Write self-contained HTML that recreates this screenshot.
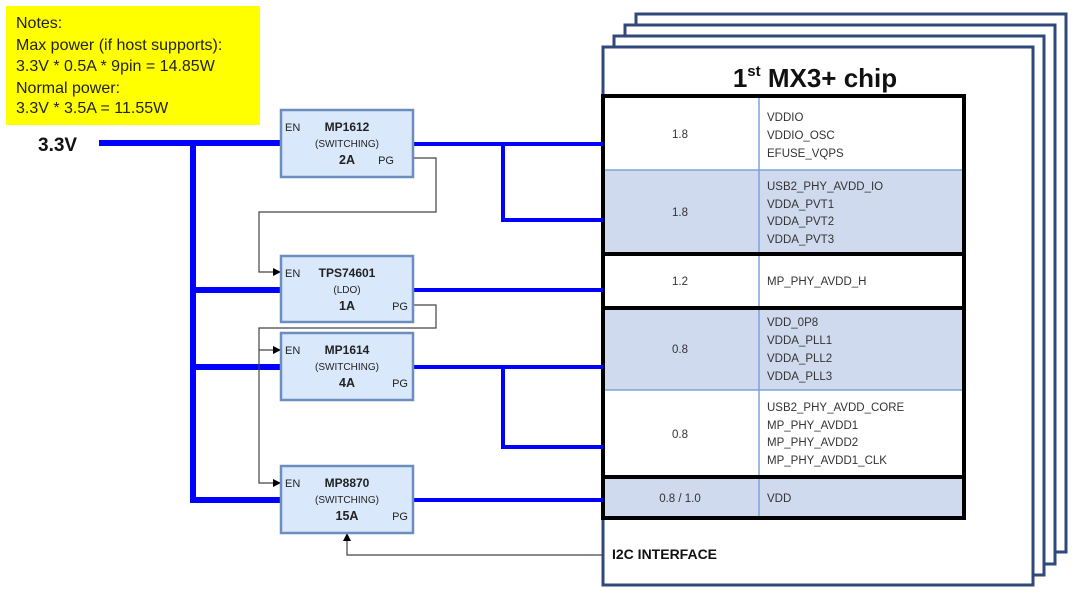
<!DOCTYPE html>
<html><head><meta charset="utf-8"><style>
html,body{margin:0;padding:0;background:#fff;}
svg{display:block;}
text{font-family:"Liberation Sans",sans-serif;}
.c{font-family:"DejaVu Sans","Liberation Sans",sans-serif;font-size:11.5px;fill:#333;}
</style></head><body>
<svg width="1090" height="600" viewBox="0 0 1090 600" xmlns="http://www.w3.org/2000/svg">
<defs><marker id="a" markerWidth="8" markerHeight="8" refX="7" refY="4" orient="auto" markerUnits="userSpaceOnUse"><path d="M0,0 L8,4 L0,8 Z" fill="#000"/></marker></defs>
<!-- stacked frames -->
<g fill="#fff" stroke="#2f4a7a" stroke-width="3">
<rect x="636" y="14" width="430" height="538"/>
<rect x="625" y="25" width="430" height="539"/>
<rect x="614" y="36" width="430" height="539"/>
<rect x="603" y="47" width="430" height="538"/>
</g>
<text x="815" y="87" text-anchor="middle" font-family="DejaVu Sans,Liberation Sans,sans-serif" font-weight="bold" font-size="26" fill="#111">1<tspan font-size="15" dy="-11">st</tspan><tspan dy="11"> MX3+ chip</tspan></text>
<!-- table -->
<rect x="605" y="170" width="359" height="83" fill="#cfdaee"/>
<rect x="605" y="307" width="359" height="83" fill="#cfdaee"/>
<rect x="605" y="476" width="359" height="42" fill="#cfdaee"/>
<g stroke="#7da3dc" stroke-width="1.5">
<line x1="759" y1="97" x2="759" y2="516"/>
<line x1="605" y1="170" x2="964" y2="170"/>
<line x1="605" y1="390" x2="964" y2="390"/>
</g>
<g stroke="#000" stroke-width="4" fill="none">
<rect x="603" y="96" width="361" height="422"/>
<line x1="603" y1="254" x2="964" y2="254"/>
<line x1="603" y1="308" x2="964" y2="308"/>
<line x1="603" y1="477" x2="964" y2="477"/>
</g>
<g class="c">
<text x="680" y="138" text-anchor="middle">1.8</text>
<text x="680" y="216" text-anchor="middle">1.8</text>
<text x="680" y="285" text-anchor="middle">1.2</text>
<text x="680" y="353" text-anchor="middle">0.8</text>
<text x="680" y="438" text-anchor="middle">0.8</text>
<text x="680" y="502" text-anchor="middle">0.8 / 1.0</text>
<text x="767" y="121">VDDIO</text><text x="767" y="139">VDDIO_OSC</text><text x="767" y="157">EFUSE_VQPS</text>
<text x="767" y="190">USB2_PHY_AVDD_IO</text><text x="767" y="208">VDDA_PVT1</text><text x="767" y="225">VDDA_PVT2</text><text x="767" y="243">VDDA_PVT3</text>
<text x="767" y="285">MP_PHY_AVDD_H</text>
<text x="767" y="326">VDD_0P8</text><text x="767" y="344">VDDA_PLL1</text><text x="767" y="362">VDDA_PLL2</text><text x="767" y="380">VDDA_PLL3</text>
<text x="767" y="411">USB2_PHY_AVDD_CORE</text><text x="767" y="429">MP_PHY_AVDD1</text><text x="767" y="446">MP_PHY_AVDD2</text><text x="767" y="464">MP_PHY_AVDD1_CLK</text>
<text x="767" y="502">VDD</text>
</g>
<text x="612" y="559" font-family="DejaVu Sans,Liberation Sans,sans-serif" font-weight="bold" font-size="14" fill="#111">I2C INTERFACE</text>
<!-- notes -->
<rect x="6" y="6" width="254" height="119" fill="#ffff00"/>
<g font-size="16" fill="#222">
<text x="16" y="28">Notes:</text>
<text x="16" y="50">Max power (if host supports):</text>
<text x="16" y="71">3.3V * 0.5A * 9pin = 14.85W</text>
<text x="16" y="93">Normal power:</text>
<text x="16" y="113">3.3V * 3.5A = 11.55W</text>
</g>
<text x="38" y="151" font-weight="bold" font-size="19" fill="#111">3.3V</text>
<!-- input bus -->
<g stroke="#0000ff" stroke-width="6" fill="none">
<line x1="99" y1="143" x2="283" y2="143"/>
<polyline points="193,143 193,500 283,500"/>
<line x1="193" y1="290" x2="283" y2="290"/>
<line x1="193" y1="367" x2="283" y2="367"/>
</g>
<!-- outputs -->
<g stroke="#0000ff" stroke-width="4" fill="none">
<line x1="413" y1="144" x2="603" y2="144"/>
<polyline points="503,144 503,220 603,220"/>
<line x1="413" y1="290" x2="603" y2="290"/>
<line x1="413" y1="367" x2="603" y2="367"/>
<polyline points="503,367 503,447 603,447"/>
<line x1="413" y1="500" x2="603" y2="500"/>
</g>
<!-- control lines -->
<g stroke="#444" stroke-width="1.2" fill="none">
<polyline points="413,158 436,158 436,212 259,212 259,272 280,272" marker-end="url(#a)"/>
<polyline points="413,305 436,305 436,328 259,328 259,483 280,483" marker-end="url(#a)"/>
<polyline points="259,350 280,350" marker-end="url(#a)"/>
<polyline points="603,555 347,555 347,534" marker-end="url(#a)"/>
</g>
<!-- regulator boxes -->
<g fill="#dae8fc" stroke="#6c8ebf" stroke-width="2.5">
<rect x="281" y="110" width="132" height="67"/>
<rect x="281" y="256" width="132" height="66"/>
<rect x="281" y="333" width="132" height="67"/>
<rect x="281" y="466" width="132" height="67"/>
</g>
<g fill="#222" font-size="11">
<text x="285" y="131">EN</text><text x="394" y="164" text-anchor="end">PG</text>
<text x="347" y="131" text-anchor="middle" font-weight="bold" font-size="12">MP1612</text>
<text x="347" y="147" text-anchor="middle" font-size="10">(SWITCHING)</text>
<text x="347" y="164" text-anchor="middle" font-weight="bold" font-size="12.5">2A</text>
<text x="285" y="277">EN</text><text x="408" y="310" text-anchor="end">PG</text>
<text x="347" y="277" text-anchor="middle" font-weight="bold" font-size="12">TPS74601</text>
<text x="347" y="293" text-anchor="middle" font-size="10">(LDO)</text>
<text x="347" y="310" text-anchor="middle" font-weight="bold" font-size="12.5">1A</text>
<text x="285" y="354">EN</text><text x="408" y="387" text-anchor="end">PG</text>
<text x="347" y="354" text-anchor="middle" font-weight="bold" font-size="12">MP1614</text>
<text x="347" y="370" text-anchor="middle" font-size="10">(SWITCHING)</text>
<text x="347" y="387" text-anchor="middle" font-weight="bold" font-size="12.5">4A</text>
<text x="285" y="487">EN</text><text x="408" y="520" text-anchor="end">PG</text>
<text x="347" y="487" text-anchor="middle" font-weight="bold" font-size="12">MP8870</text>
<text x="347" y="503" text-anchor="middle" font-size="10">(SWITCHING)</text>
<text x="347" y="520" text-anchor="middle" font-weight="bold" font-size="12.5">15A</text>
</g>
</svg>
</body></html>
